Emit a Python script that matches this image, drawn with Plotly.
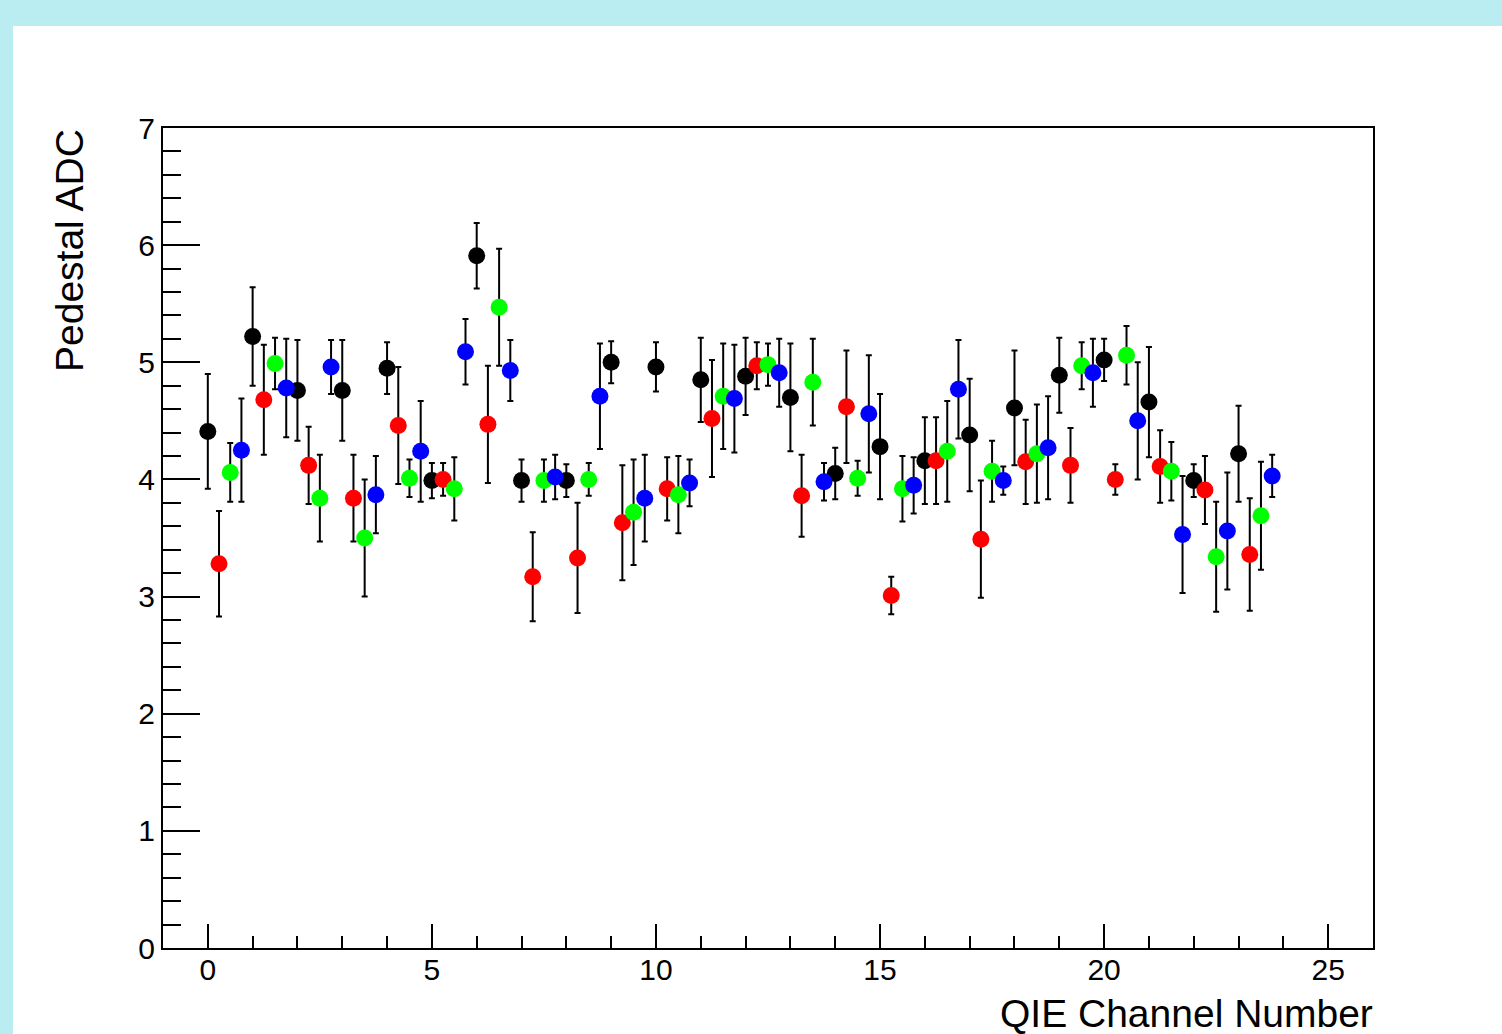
import plotly.graph_objects as go

# ---- data ----
channels = list(range(24))

black_vals = [4.41, 5.22, 4.76, 4.76, 4.95, 3.99, 5.91, 3.99, 3.99, 5.00, 4.96, 4.85,
              4.88, 4.70, 4.05, 4.28, 4.16, 4.38, 4.61, 4.89, 5.02, 4.66, 3.99, 4.22]
black_errs = [0.49, 0.42, 0.43, 0.43, 0.22, 0.15, 0.28, 0.18, 0.14, 0.18, 0.21, 0.36,
              0.33, 0.46, 0.22, 0.45, 0.37, 0.48, 0.49, 0.32, 0.18, 0.47, 0.14, 0.41]

red_vals = [3.28, 4.68, 4.12, 3.84, 4.46, 4.00, 4.47, 3.17, 3.33, 3.63, 3.92, 4.52,
            4.97, 3.86, 4.62, 3.01, 4.16, 3.49, 4.15, 4.12, 4.00, 4.11, 3.91, 3.36]
red_errs = [0.45, 0.47, 0.33, 0.37, 0.50, 0.14, 0.50, 0.38, 0.47, 0.49, 0.27, 0.50,
            0.20, 0.35, 0.48, 0.16, 0.37, 0.50, 0.36, 0.32, 0.13, 0.31, 0.29, 0.48]

green_vals = [4.06, 4.99, 3.84, 3.50, 4.01, 3.92, 5.47, 3.99, 4.00, 3.72, 3.87, 4.71,
              4.98, 4.83, 4.01, 3.92, 4.24, 4.07, 4.22, 4.97, 5.06, 4.07, 3.34, 3.69]
green_errs = [0.25, 0.22, 0.37, 0.50, 0.16, 0.27, 0.50, 0.18, 0.14, 0.45, 0.33, 0.45,
              0.18, 0.37, 0.15, 0.28, 0.43, 0.26, 0.42, 0.20, 0.25, 0.25, 0.47, 0.46]

blue_vals = [4.25, 4.78, 4.96, 3.87, 4.24, 5.09, 4.93, 4.02, 4.71, 3.84, 3.97, 4.69,
             4.91, 3.98, 4.56, 3.95, 4.77, 3.99, 4.27, 4.91, 4.50, 3.53, 3.56, 4.03]
blue_errs = [0.44, 0.42, 0.23, 0.33, 0.43, 0.28, 0.26, 0.19, 0.45, 0.37, 0.20, 0.46,
             0.29, 0.16, 0.50, 0.24, 0.42, 0.12, 0.44, 0.29, 0.50, 0.50, 0.50, 0.18]

x_title = "QIE Channel Number"
y_title = "Pedestal ADC"

# series: (values, errors, sub-channel offset, colour)
series = [
    (black_vals, black_errs, 0.00, "#000000"),
    (red_vals, red_errs, 0.25, "#ff0000"),
    (green_vals, green_errs, 0.50, "#00ff00"),
    (blue_vals, blue_errs, 0.75, "#0000ff"),
]

W, H = 1502, 1034
L, R, T, B = 163, 1373, 128, 948   # plot frame in pixels
pw, ph = R - L, B - T


def px2paper_x(px):
    return (px - L) / pw


def px2paper_y(py):
    return (B - py) / ph


FONT = "Liberation Sans, Arial, Helvetica, sans-serif"

fig = go.Figure()
for vals, errs, off, col in series:
    fig.add_trace(go.Scatter(
        x=[c + off for c in channels],
        y=vals,
        mode="markers",
        marker=dict(color=col, size=17, line=dict(width=0)),
        error_y=dict(type="data", array=errs, visible=True,
                     color="black", thickness=2, width=3),
        showlegend=False,
        hoverinfo="x+y",
    ))

axis_common = dict(
    showgrid=False, zeroline=False,
    showline=True, linecolor="black", linewidth=2, mirror=True,
    ticks="inside", tickcolor="black", tickwidth=2,
    tickfont=dict(family=FONT, size=30, color="black"),
)

fig.update_xaxes(
    range=[-1, 26], tick0=0, dtick=5, ticklen=24, ticklabelstandoff=-6,
    minor=dict(ticks="inside", dtick=1, tick0=0, ticklen=12,
               tickwidth=2, tickcolor="black", showgrid=False),
    **axis_common,
)
fig.update_yaxes(
    range=[0, 7], tick0=0, dtick=1, ticklen=37,
    minor=dict(ticks="inside", dtick=0.2, tick0=0, ticklen=18,
               tickwidth=2, tickcolor="black", showgrid=False),
    **axis_common,
)

fig.update_layout(
    width=W, height=H,
    margin=dict(l=L, r=W - R, t=T, b=H - B, pad=0),
    paper_bgcolor="#b9edf1",
    plot_bgcolor="white",
    font=dict(family=FONT, color="black"),
    shapes=[dict(
        type="rect", xref="paper", yref="paper", layer="below",
        x0=px2paper_x(13), x1=px2paper_x(W + 5),
        y0=px2paper_y(H + 5), y1=px2paper_y(26),
        fillcolor="white", line=dict(width=0),
    )],
    annotations=[
        dict(text=x_title, xref="paper", yref="paper",
             x=px2paper_x(R + 2), y=px2paper_y(1013),
             xanchor="right", yanchor="middle", showarrow=False,
             font=dict(family=FONT, size=39, color="black")),
        dict(text=y_title, xref="paper", yref="paper",
             x=px2paper_x(69), y=px2paper_y(251),
             xanchor="center", yanchor="middle", showarrow=False, textangle=-90,
             font=dict(family=FONT, size=39, color="black")),
    ],
)

fig.write_html("out.html")
